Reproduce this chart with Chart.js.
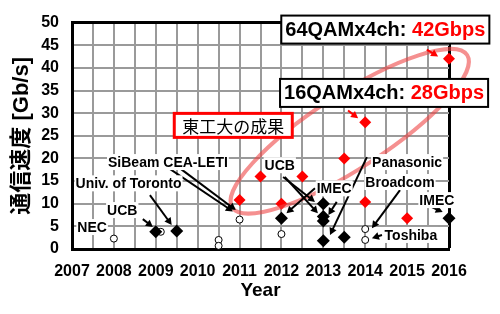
<!DOCTYPE html>
<html>
<head>
<meta charset="utf-8">
<script src="https://cdn.jsdelivr.net/npm/chart.js@4"></script>
<style>
html, body { margin: 0; padding: 0; background: #fff; }
</style>
</head>
<body>
<canvas id="rateChart" width="500" height="314"></canvas>
<script>
// data
var yearTicks = [2007, 2008, 2009, 2010, 2011, 2012, 2013, 2014, 2015, 2016];
var rateTicks = [0, 5, 10, 15, 20, 25, 30, 35, 40, 45, 50];

// Tokyo Tech results (red diamonds)
var titechYears = [2011, 2011.5, 2012, 2012.5, 2013.5, 2014, 2014, 2015, 2016];
var titechRates = [10.8, 16, 10, 16, 20, 28, 10.4, 6.8, 42];

// other groups, CMOS (black diamonds)
var otherYears = [2009, 2009.5, 2012, 2013, 2013, 2013, 2013, 2013.5, 2016];
var otherRates = [3.8, 4.0, 6.8, 10, 7.2, 6.2, 1.8, 2.6, 6.8];

// other groups, white circles
var circleYears = [2008, 2009.12, 2010.5, 2010.5, 2011, 2012, 2014, 2014];
var circleRates = [2.3, 3.8, 2.0, 0.7, 6.5, 3.3, 4.4, 2.0];

var FONT = "'Liberation Sans', 'Noto Sans CJK JP', sans-serif";
Chart.defaults.font.family = FONT;
Chart.defaults.color = '#000';

function toPoints(xs, ys) {
    return xs.map((x, i) => ({ x: x, y: ys[i] }));
}

// annotation text and arrows, in data units
var groupLabels = [
    ['NEC', 2007.48, 4.85],
    ['UCB', 2008.2, 8.6],
    ['Univ. of Toronto', 2008.35, 14.5],
    ['SiBeam CEA-LETI', 2009.29, 19.2],
    ['UCB', 2011.96, 18.5],
    ['IMEC', 2013.26, 13.4],
    ['Panasonic', 2015.0, 19.2],
    ['Broadcom', 2014.83, 14.8],
    ['Toshiba', 2015.09, 3.1],
    ['IMEC', 2015.71, 10.8]
];

var arrows = [
    [2008.69, 6.6, 2008.93, 4.85, '#000'],
    [2008.86, 11.9, 2009.38, 5.3, '#000'],
    [2009.14, 18.9, 2010.84, 8.3, '#000'],
    [2009.58, 17.8, 2010.91, 8.6, '#000'],
    [2012.04, 15.9, 2012.8, 10.4, '#000'],
    [2012.08, 15.9, 2012.87, 7.9, '#000'],
    [2012.8, 13.4, 2012.12, 7.9, '#000'],
    [2013.32, 10.4, 2013.12, 7.5, '#000'],
    [2014.04, 20.3, 2013.16, 3.1, '#000'],
    [2014.83, 13.0, 2014.16, 4.6, '#000'],
    [2014.4, 3.1, 2014.16, 2.4, '#000'],
    [2015.59, 9.25, 2015.85, 8.15, '#000'],
    [2015.47, 44.05, 2015.74, 42.5, '#ff0000'],
    [2013.59, 30.6, 2013.83, 28.85, '#ff0000']
];

function drawArrow(ctx, x1, y1, x2, y2, color) {
    var ang = Math.atan2(y2 - y1, x2 - x1), head = 8;
    ctx.strokeStyle = color;
    ctx.fillStyle = color;
    ctx.lineWidth = 2;
    ctx.beginPath();
    ctx.moveTo(x1, y1);
    ctx.lineTo(x2 - head * 0.7 * Math.cos(ang), y2 - head * 0.7 * Math.sin(ang));
    ctx.stroke();
    ctx.beginPath();
    ctx.moveTo(x2, y2);
    ctx.lineTo(x2 - head * Math.cos(ang - 0.5), y2 - head * Math.sin(ang - 0.5));
    ctx.lineTo(x2 - head * Math.cos(ang + 0.5), y2 - head * Math.sin(ang + 0.5));
    ctx.closePath();
    ctx.fill();
}

function drawBox(ctx, cx, cy, parts, font, padX, h, border, borderWidth) {
    ctx.font = font;
    var w = parts.reduce((s, p) => s + ctx.measureText(p[0]).width, 0);
    var bw = w + padX * 2;
    ctx.fillStyle = '#fff';
    ctx.fillRect(cx - bw / 2, cy - h / 2, bw, h);
    ctx.strokeStyle = border;
    ctx.lineWidth = borderWidth;
    ctx.strokeRect(cx - bw / 2, cy - h / 2, bw, h);
    ctx.textBaseline = 'middle';
    ctx.textAlign = 'left';
    var x = cx - w / 2;
    parts.forEach(p => {
        ctx.fillStyle = p[1];
        ctx.fillText(p[0], x, cy + 1);
        x += ctx.measureText(p[0]).width;
    });
}

var notes = {
    id: 'notes',
    afterDatasetsDraw(chart) {
        var ctx = chart.ctx, xs = chart.scales.x, ys = chart.scales.y;
        var px = v => xs.getPixelForValue(v), py = v => ys.getPixelForValue(v);
        ctx.save();

        // ring round the Tokyo Tech results
        ctx.beginPath();
        ctx.ellipse(px(2013.63), py(26), 140, 37, -33 * Math.PI / 180, 0, Math.PI * 2);
        ctx.strokeStyle = 'rgba(238, 70, 70, 0.6)';
        ctx.lineWidth = 4;
        ctx.stroke();

        arrows.forEach(a => drawArrow(ctx, px(a[0]), py(a[1]), px(a[2]), py(a[3]), a[4]));

        ctx.font = 'bold 14px ' + FONT;
        ctx.textBaseline = 'middle';
        ctx.textAlign = 'center';
        groupLabels.forEach(l => {
            var w = ctx.measureText(l[0]).width;
            var x = px(l[1]), y = py(l[2]);
            ctx.fillStyle = '#fff';
            ctx.fillRect(x - w / 2 - 1, y - 8, w + 2, 16);
            ctx.fillStyle = '#000';
            ctx.fillText(l[0], x, y + 1);
        });

        drawBox(ctx, px(2014.48), py(48.46), [['64QAMx4ch: ', '#000'], ['42Gbps', '#ff0000']],
            'bold 20px ' + FONT, 4, 28, '#000', 2);
        drawBox(ctx, px(2014.45), py(34.47), [['16QAMx4ch: ', '#000'], ['28Gbps', '#ff0000']],
            'bold 20px ' + FONT, 4, 28, '#000', 2);
        drawBox(ctx, px(2010.85), py(27.3), [['東工大の成果', '#000']],
            "17px 'Noto Sans CJK JP', sans-serif", 8, 24, '#ff0000', 3);

        ctx.restore();
    }
};

var rateChart = new Chart('rateChart', {
    type: 'scatter',
    data: {
        datasets: [{
            label: '東工大',
            data: toPoints(titechYears, titechRates),
            pointStyle: 'rectRot',
            pointRadius: 6,
            backgroundColor: '#ff0000',
            borderColor: '#ff0000',
            borderWidth: 0,
            clip: false
        }, {
            label: 'others',
            data: toPoints(otherYears, otherRates),
            pointStyle: 'rectRot',
            pointRadius: 6.5,
            backgroundColor: '#000',
            borderColor: '#000',
            borderWidth: 0,
            clip: false
        }, {
            label: 'others (circle)',
            data: toPoints(circleYears, circleRates),
            pointStyle: 'circle',
            pointRadius: 3.5,
            backgroundColor: '#fff',
            borderColor: '#000',
            borderWidth: 1,
            clip: false
        }]
    },
    options: {
        responsive: false,
        animation: false,
        layout: {
            padding: { top: 22, right: 51, left: 0, bottom: 0 }
        },
        plugins: {
            legend: { display: false },
            tooltip: { enabled: false }
        },
        scales: {
            x: {
                type: 'linear',
                min: yearTicks[0],
                max: yearTicks[yearTicks.length - 1],
                afterFit: s => { s.height = 65; },
                ticks: {
                    stepSize: 0.5,
                    autoSkip: false,
                    maxRotation: 0,
                    padding: 13,
                    font: { size: 16, weight: 'bold' },
                    callback: v => yearTicks.includes(v) ? String(v) : ''
                },
                grid: {
                    drawTicks: false,
                    color: c => c.tick && c.tick.value === 2016 ? '#000' : '#9a9a9a',
                    lineWidth: c => c.tick && c.tick.value === 2016 ? 3 : 2
                },
                border: { color: '#000', width: 3 },
                title: {
                    display: true,
                    text: 'Year',
                    font: { size: 19, weight: 'bold' },
                    padding: { top: 0, bottom: 12 }
                }
            },
            y: {
                min: rateTicks[0],
                max: rateTicks[rateTicks.length - 1],
                afterFit: s => { s.width = 72; },
                afterBuildTicks: s => { s.ticks = rateTicks.map(v => ({ value: v })); },
                ticks: {
                    padding: 13,
                    font: { size: 16, weight: 'bold' }
                },
                grid: {
                    drawTicks: false,
                    color: c => c.tick && c.tick.value === 50 ? '#000' : '#9a9a9a',
                    lineWidth: c => c.tick && c.tick.value === 50 ? 3 : 2
                },
                border: { color: '#000', width: 3 },
                title: {
                    display: true,
                    text: '通信速度 [Gb/s]',
                    font: { size: 22, weight: 'bold' },
                    padding: { top: 9, bottom: 0 }
                }
            }
        }
    },
    plugins: [notes]
});
</script>
</body>
</html>
